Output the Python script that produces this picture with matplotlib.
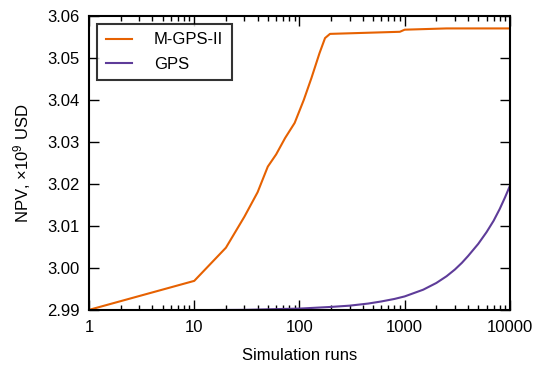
import matplotlib
matplotlib.use("Agg")
import matplotlib.pyplot as plt
from matplotlib.ticker import FixedLocator, FuncFormatter, LogLocator, NullFormatter

# Data
mgps_runs = [1, 10, 20, 30, 40, 50, 60, 73, 90, 110, 130, 155, 175, 195, 900, 1000, 2500, 10000]
mgps_npv = [2.990, 2.9969, 3.0048, 3.0122, 3.0180, 3.0241, 3.0270, 3.0309, 3.0345, 3.0400,
            3.0452, 3.0511, 3.0547, 3.0557, 3.0562, 3.0567, 3.0570, 3.0570]

gps_runs = [1, 30, 100, 200, 300, 450, 600, 800, 1000, 1500, 2000, 2500, 3000, 3500,
            4000, 5000, 6000, 7000, 8000, 9000, 10000]
gps_npv = [2.9898, 2.9900, 2.9903, 2.9907, 2.9910, 2.9915, 2.9920, 2.9926, 2.9932, 2.9948,
           2.9964, 2.9980, 2.9996, 3.0012, 3.0028, 3.0057, 3.0085, 3.0112, 3.0140, 3.0168,
           3.0195]

x_ticks = [1, 10, 100, 1000, 10000]
y_ticks = [2.99, 3.00, 3.01, 3.02, 3.03, 3.04, 3.05, 3.06]

plt.rcParams['font.family'] = ['Liberation Sans', 'DejaVu Sans']
plt.rcParams['mathtext.fontset'] = 'custom'
plt.rcParams['mathtext.rm'] = 'Liberation Sans'
plt.rcParams['mathtext.it'] = 'Liberation Sans:italic'
plt.rcParams['font.size'] = 12

fig = plt.figure(figsize=(5.43, 3.68), dpi=100)
ax = fig.add_axes([0.164, 0.158, 0.775, 0.799])

ax.plot(mgps_runs, mgps_npv, color='#e66101', lw=1.5, label='M-GPS-II')
ax.plot(gps_runs, gps_npv, color='#5e3c99', lw=1.5, label='GPS')

ax.set_xscale('log')
ax.set_xlim(1, 10000)
ax.set_ylim(2.99, 3.06)
ax.xaxis.set_major_locator(FixedLocator(x_ticks))
ax.xaxis.set_major_formatter(FuncFormatter(lambda v, p: '%d' % v))
ax.xaxis.set_minor_locator(LogLocator(base=10, subs=range(2, 10)))
ax.xaxis.set_minor_formatter(NullFormatter())
ax.yaxis.set_major_locator(FixedLocator(y_ticks))
ax.yaxis.set_major_formatter(FuncFormatter(lambda v, p: '%.2f' % v))

for s in ax.spines.values():
    s.set_linewidth(1.5)
ax.tick_params(which='both', direction='in', top=True, right=True, width=1, pad=7)
ax.tick_params(which='major', length=7)
ax.tick_params(which='minor', length=3.5)

ax.set_xlabel('Simulation runs', labelpad=10)
ax.set_ylabel('NPV, $\\times 10^9$ USD', labelpad=10)

leg = ax.legend(loc='upper left', fancybox=False, handlelength=1.6, borderpad=0.5,
                labelspacing=0.55, handletextpad=1.3, borderaxespad=0.5)
leg.get_frame().set_edgecolor('black')
leg.get_frame().set_linewidth(1.5)

fig.savefig('out.png', dpi=100)
